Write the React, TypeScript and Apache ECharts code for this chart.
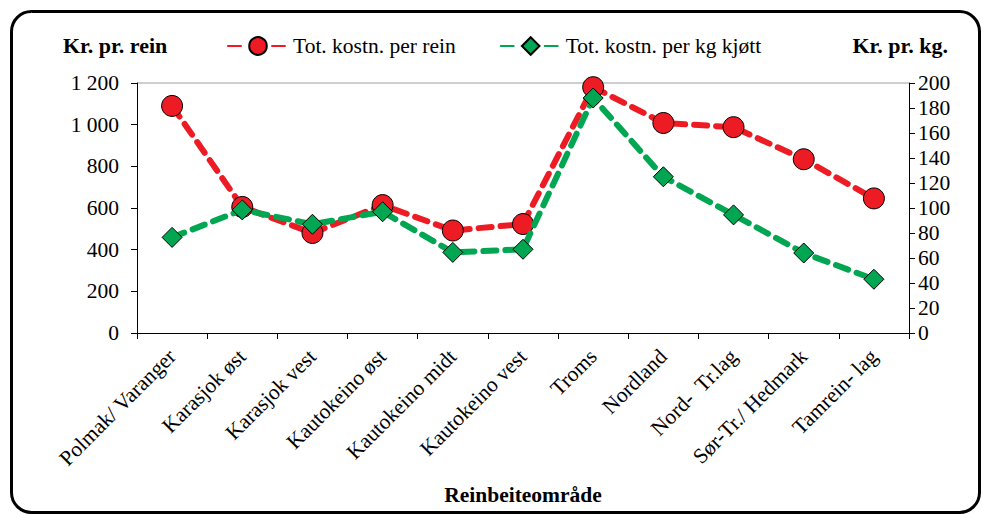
import React, { useEffect, useRef } from "react";
import * as echarts from "echarts";

const categories = [
  "Polmak/ Varanger",
  "Karasjok øst",
  "Karasjok vest",
  "Kautokeino øst",
  "Kautokeino midt",
  "Kautokeino vest",
  "Troms",
  "Nordland",
  "Nord-  Tr.lag",
  "Sør-Tr./ Hedmark",
  "Tamrein- lag",
];
const costPerRein = [1090, 605, 480, 614, 492, 523, 1180, 1008, 988, 834, 646];
const costPerKg = [76.5, 98.5, 87, 97, 64.5, 67, 188, 125, 94.5, 64, 43];
const seriesNames = ["Tot. kostn. per rein", "Tot. kostn. per kg kjøtt"];

const FONT = "Liberation Serif";
const FS = 21.5;

export default function App() {
  const ref = useRef<HTMLDivElement>(null);
  useEffect(() => {
    if (!ref.current) return;
    const chart = echarts.init(ref.current, null, { renderer: "svg" });
    const red = "#ED1C24";
    const green = "#00A651";
    chart.setOption({
      animation: false,
      textStyle: { fontFamily: FONT, fontSize: FS, color: "#000" },
      graphic: [
        {
          type: "rect",
          shape: { x: 11.5, y: 11.5, width: 968, height: 501, r: 20 },
          style: { fill: "none", stroke: "#000", lineWidth: 3 },
          z: 100,
        },
        {
          type: "text",
          left: 63,
          top: 34,
          style: { text: "Kr. pr. rein", fontFamily: FONT, fontSize: 22, fontWeight: "bold", fill: "#000" },
        },
        {
          type: "text",
          right: 35,
          top: 34,
          style: { text: "Kr. pr. kg.", fontFamily: FONT, fontSize: 22, fontWeight: "bold", fill: "#000" },
        },
      ],
      legend: {
        top: 35,
        left: 227,
        padding: 0,
        itemWidth: 60,
        itemHeight: 22,
        itemGap: 44,
        textStyle: { fontFamily: FONT, fontSize: FS, color: "#000" },
        data: seriesNames,
      },
      grid: { left: 137, right: 74, top: 83, bottom: 181 },
      xAxis: {
        type: "category",
        data: categories,
        name: "Reinbeiteområde",
        nameLocation: "middle",
        nameGap: 151,
        nameTextStyle: { fontFamily: FONT, fontSize: FS, fontWeight: "bold", color: "#000" },
        axisLine: { lineStyle: { color: "#000", width: 1 } },
        axisTick: { show: true, length: 6, lineStyle: { color: "#000" } },
        axisLabel: {
          rotate: 45,
          interval: 0,
          fontFamily: FONT,
          fontSize: FS,
          color: "#000",
          margin: 20,
        },
      },
      yAxis: [
        {
          type: "value",
          min: 0,
          max: 1200,
          interval: 200,
          axisLine: { show: true, lineStyle: { color: "#000" } },
          axisTick: { show: true, length: 6, lineStyle: { color: "#000" } },
          axisLabel: {
            fontFamily: FONT,
            fontSize: FS,
            color: "#000",
            margin: 18,
            formatter: (v: number) =>
              String(v).replace(/\B(?=(\d{3})+(?!\d))/g, " "),
          },
          splitLine: {
            show: true,
            lineStyle: {
              color: ["rgba(0,0,0,0)", "rgba(0,0,0,0)", "rgba(0,0,0,0)", "rgba(0,0,0,0)", "rgba(0,0,0,0)", "rgba(0,0,0,0)", "#bfbfbf"],
              width: 1.5,
            },
          },
        },
        {
          type: "value",
          min: 0,
          max: 200,
          interval: 20,
          position: "right",
          axisLine: { show: true, lineStyle: { color: "#000" } },
          axisTick: { show: true, length: 6, lineStyle: { color: "#000" } },
          axisLabel: { fontFamily: FONT, fontSize: FS, color: "#000", margin: 9 },
          splitLine: { show: false },
        },
      ],
      series: [
        {
          name: seriesNames[0],
          type: "line",
          yAxisIndex: 0,
          data: costPerRein,
          symbol: "circle",
          symbolSize: 21,
          itemStyle: { color: red, borderColor: "#000", borderWidth: 1 },
          lineStyle: { color: red, width: 6, type: [13, 9], cap: "round" },
          z: 2,
        },
        {
          name: seriesNames[1],
          type: "line",
          yAxisIndex: 1,
          data: costPerKg,
          symbol: "diamond",
          symbolSize: 20,
          itemStyle: { color: green, borderColor: "#000", borderWidth: 1 },
          lineStyle: { color: green, width: 6, type: [13, 9], cap: "round" },
          z: 3,
        },
      ],
    });
    return () => chart.dispose();
  }, []);
  return (
    <div
      ref={ref}
      style={{ position: "absolute", left: 0, top: 0, width: 983, height: 514, background: "#fff" }}
    />
  );
}
